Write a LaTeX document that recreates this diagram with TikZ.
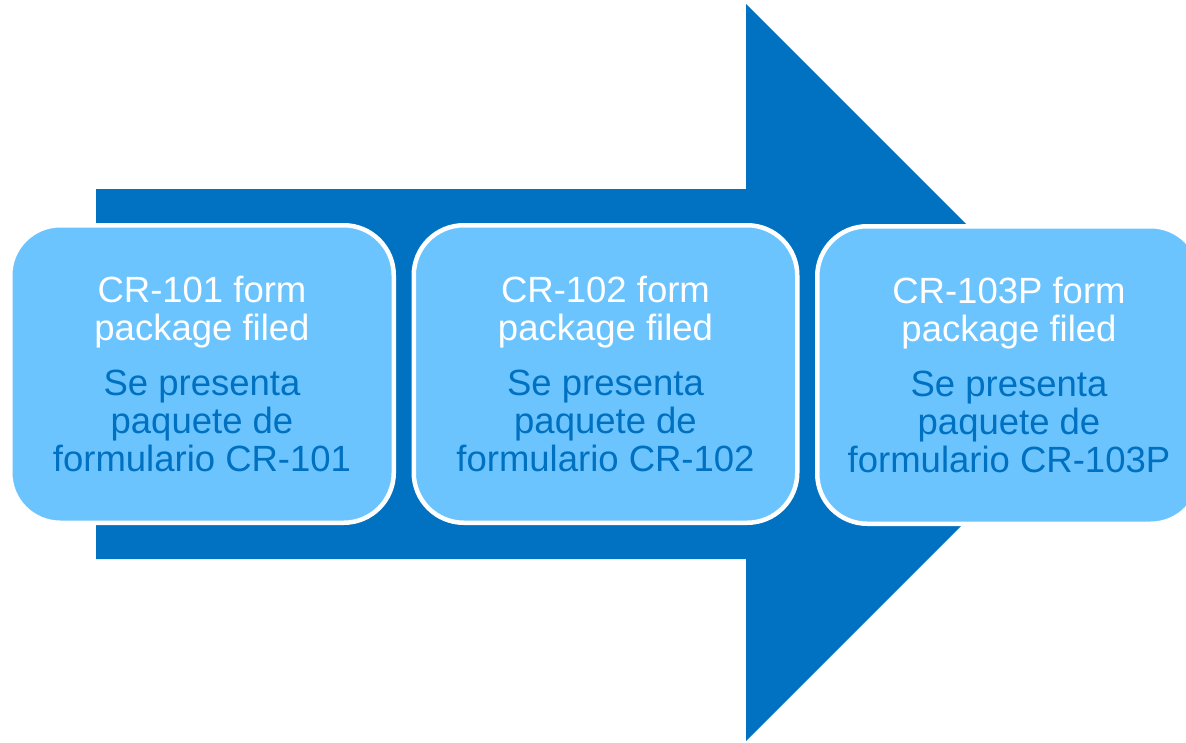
\documentclass[tikz,border=0pt]{standalone}
\usepackage{fontspec}
\setmainfont{Liberation Sans}
\definecolor{arrowblue}{RGB}{0,114,193}
\definecolor{boxblue}{RGB}{108,196,255}
\definecolor{textblue}{RGB}{0,112,192}
\tikzset{
  stagebox/.style={rounded corners=50pt, fill=boxblue, draw=white, line width=4.5pt,
    minimum width=383.5pt, minimum height=297.5pt, align=center, inner sep=0pt,
    text=white, font=\fontsize{36.5}{38}\selectfont}
}
\begin{document}
\begin{tikzpicture}[x=1pt,y=-1pt]
\useasboundingbox (0,0) rectangle (1186,742);
\clip (0,0) rectangle (1186,742);
\fill[arrowblue] (96,189) -- (746,189) -- (746,4) -- (1114.5,372.5) -- (746,741) -- (746,559) -- (96,559) -- cycle;
\node[stagebox] (b1) at (202,374) {CR-101 form\\package filed\\[17pt]\textcolor{textblue}{Se presenta}\\\textcolor{textblue}{paquete de}\\\textcolor{textblue}{formulario CR-101}};
\node[stagebox] (b2) at (605.5,374) {CR-102 form\\package filed\\[17pt]\textcolor{textblue}{Se presenta}\\\textcolor{textblue}{paquete de}\\\textcolor{textblue}{formulario CR-102}};
\node[stagebox] (b3) at (1009,375) {CR-103P form\\package filed\\[17pt]\textcolor{textblue}{Se presenta}\\\textcolor{textblue}{paquete de}\\\textcolor{textblue}{formulario CR-103P}};
\end{tikzpicture}
\end{document}
